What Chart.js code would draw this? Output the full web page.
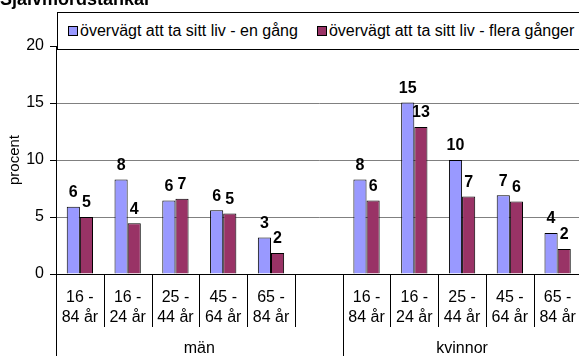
<!DOCTYPE html>
<html>
<head>
<meta charset="utf-8">
<script src="https://cdn.jsdelivr.net/npm/chart.js@4"></script>
<style>
  body { margin: 0; overflow: hidden; background: #fff; font-family: "Liberation Sans", Arial, sans-serif; }
  #wrap { position: relative; width: 590px; height: 356px; }
  #title { position: absolute; left: 0; top: -10px; font-weight: bold; font-size: 18px; line-height: 18px; white-space: nowrap; }
  #legend { position: absolute; left: 57px; top: 12px; width: 560px; height: 36px; border: 1px solid #000; background: #fff;
            display: flex; align-items: center; padding-left: 10px; font-size: 16px; white-space: nowrap; }
  #legend .item { display: flex; align-items: center; margin-right: 19px; }
  #legend .box { width: 8px; height: 8px; border: 1px solid #000; margin-right: 2px; }
</style>
</head>
<body>
<div id="wrap">
  <canvas id="chart" width="590" height="356"></canvas>
  <div id="title">Självmordstankar</div>
  <div id="legend"></div>
</div>
<script>
// age groups shown under each bar pair
const ageGroups = [['16 -', '84 år'], ['16 -', '24 år'], ['25 -', '44 år'], ['45 -', '64 år'], ['65 -', '84 år']];
const groups = ['män', 'kvinnor'];
const seriesNames = ['övervägt att ta sitt liv - en gång', 'övervägt att ta sitt liv - flera gånger'];

// procent
const onceMen = [5.9, 8.3, 6.45, 5.6, 3.2];
const onceWomen = [8.3, 15.05, 10.0, 6.9, 3.6];
const severalMen = [5.0, 4.45, 6.6, 5.3, 1.85];
const severalWomen = [6.45, 12.9, 6.8, 6.35, 2.2];

const yTicks = [0, 5, 10, 15, 20];

const colors = ['#9999ff', '#993366'];
const font = '"Liberation Sans", Arial, sans-serif';

// men + empty spacer slot + women
const labels = [...ageGroups, '', ...ageGroups];
const groupSizes = [ageGroups.length + 1, ageGroups.length];
const once = [...onceMen, null, ...onceWomen];
const several = [...severalMen, null, ...severalWomen];

// html legend
const legend = document.getElementById('legend');
seriesNames.forEach((name, i) => {
    legend.innerHTML += `<span class="item"><span class="box" style="background:${colors[i]}"></span>${name}</span>`;
});

// value labels above bars
const valueLabels = {
    id: 'valueLabels',
    afterDatasetsDraw(chart) {
        const ctx = chart.ctx;
        ctx.save();
        ctx.font = 'bold 16px ' + font;
        ctx.fillStyle = '#000';
        ctx.textAlign = 'center';
        ctx.textBaseline = 'middle';
        chart.data.datasets.forEach((ds, di) => {
            chart.getDatasetMeta(di).data.forEach((bar, i) => {
                const v = ds.data[i];
                if (v == null) return;
                ctx.fillText(Math.round(v), bar.x, bar.y - 14);
            });
        });
        ctx.restore();
    }
};

// separators between categories and the män / kvinnor row
const groupAxis = {
    id: 'groupAxis',
    afterDraw(chart) {
        const {ctx, chartArea} = chart;
        const x = chart.scales.x;
        const step = x.getPixelForTick(1) - x.getPixelForTick(0);
        const start = x.getPixelForTick(0) - step / 2;
        const edges = [0];
        let slot = 0;
        groupSizes.forEach(n => { slot += n; edges.push(slot); });

        ctx.save();
        ctx.strokeStyle = '#000';
        ctx.lineWidth = 1;
        for (let i = 0; i <= labels.length; i++) {
            const px = Math.round(start + i * step) + 0.5;
            const end = edges.includes(i) ? chart.height : chartArea.bottom + 53;
            ctx.beginPath();
            ctx.moveTo(px, chartArea.bottom);
            ctx.lineTo(px, end);
            ctx.stroke();
        }
        ctx.font = '16px ' + font;
        ctx.fillStyle = '#000';
        ctx.textAlign = 'center';
        ctx.textBaseline = 'middle';
        groups.forEach((g, k) => {
            const mid = start + (edges[k] + edges[k + 1]) / 2 * step;
            ctx.fillText(g, mid, chartArea.bottom + 75);
        });
        ctx.restore();
    }
};

new Chart(document.getElementById('chart'), {
    type: 'bar',
    data: {
        labels: labels,
        datasets: [
            { label: seriesNames[0], data: once, backgroundColor: colors[0], borderColor: '#000', borderWidth: 1 },
            { label: seriesNames[1], data: several, backgroundColor: colors[1], borderColor: '#000', borderWidth: 1 }
        ]
    },
    options: {
        responsive: false,
        animation: false,
        categoryPercentage: 0.55,
        barPercentage: 1,
        layout: { padding: { top: 46, right: 3, left: 0, bottom: 0 } },
        plugins: { legend: { display: false }, tooltip: { enabled: false } },
        scales: {
            x: {
                grid: { display: true, drawOnChartArea: false, drawTicks: false },
                border: { color: '#000', width: 1 },
                ticks: { color: '#000', padding: 14, maxRotation: 0, autoSkip: false,
                         font: { family: font, size: 16, lineHeight: 1.25 } },
                afterFit(scale) { scale.height = 82; }
            },
            y: {
                min: 0,
                max: 20,
                afterBuildTicks(scale) { scale.ticks = yTicks.map(v => ({ value: v })); },
                grid: { color: ctx => ctx.tick && ctx.tick.value === 0 ? 'transparent' : '#808080',
                        tickColor: '#000', tickLength: 6 },
                border: { color: '#000', width: 1 },
                ticks: { color: '#000', padding: 6, font: { family: font, size: 16 } },
                title: { display: true, text: 'procent', color: '#000', padding: { top: 6, bottom: 0 },
                         font: { family: font, size: 15 } },
                afterFit(scale) { scale.width = 56; }
            }
        }
    },
    plugins: [valueLabels, groupAxis]
});
</script>
</body>
</html>
